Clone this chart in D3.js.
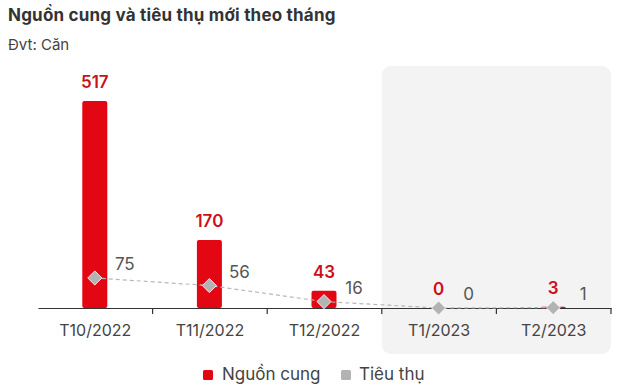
<!DOCTYPE html>
<html><head><meta charset="utf-8">
<script src="https://cdn.jsdelivr.net/npm/d3@7"></script>
<style>body{margin:0;background:#fff;font-family:Inter,"Open Sans",sans-serif;}</style>
</head><body><svg id="c" width="632" height="392"></svg>
<script>
const categories = ["T10/2022","T11/2022","T12/2022","T1/2023","T2/2023"];
const supply = [517,170,43,0,3];
const consumption = [75,56,16,0,1];
const highlighted = ["T1/2023","T2/2023"];
const title = "Nguồn cung và tiêu thụ mới theo tháng";
const unit = "Đvt: Căn";
const seriesNames = ["Nguồn cung","Tiêu thụ"];

const svg = d3.select("#c");
const left = 38, right = 611, base = 308;
const x = d3.scaleBand().domain(categories).range([left,right]);
const y = d3.scaleLinear().domain([0,517]).range([base,101]);
const red = "#e30613", gray = "#b3b3b3";

// highlight panel
const hx0 = x(highlighted[0]), hx1 = x(highlighted[highlighted.length-1]) + x.bandwidth();
svg.append("rect").attr("x",hx0).attr("y",66).attr("width",hx1-hx0).attr("height",288)
  .attr("rx",9).attr("fill","#f3f3f3");

svg.append("text").attr("x",8).attr("y",21).text(title)
  .attr("font-size",17).attr("font-weight",700).attr("fill","#333").attr("letter-spacing",0.2);
svg.append("text").attr("x",8).attr("y",50).text(unit)
  .attr("font-size",15).attr("fill","#444");

// bars
const bw = 25;
svg.selectAll(".bar").data(categories).enter().append("rect")
  .attr("x",d=>x(d)+x.bandwidth()/2-bw/2 - 0.5)
  .attr("y",(d,i)=>y(supply[i]))
  .attr("width",bw).attr("height",(d,i)=>base-y(supply[i]))
  .attr("rx",2).attr("fill",red);

// axis
const axis = d3.axisBottom(x).tickSize(0).tickPadding(17);
const g = svg.append("g").attr("transform",`translate(0,${base})`).call(axis);
g.select(".domain").attr("stroke","#333").attr("stroke-width",1.2);
g.selectAll("text").attr("font-size",16).attr("fill","#444").attr("font-family","Inter,'Open Sans',sans-serif");
const bounds = categories.map(c=>x(c)).concat([right]);
svg.selectAll(".tk").data(bounds.slice(1)).enter().append("line")
  .attr("x1",d=>d).attr("x2",d=>d).attr("y1",base).attr("y2",base+6)
  .attr("stroke","#333").attr("stroke-width",1.2);

// line
const cx = d=>x(d)+x.bandwidth()/2 - 0.5;
const line = d3.line().x((d,i)=>cx(categories[i])).y(d=>y(d));
svg.append("path").datum(consumption).attr("d",line).attr("fill","none")
  .attr("stroke","#b8b8b8").attr("stroke-width",1.2).attr("stroke-dasharray","4,3");
svg.selectAll(".pt").data(consumption).enter().append("rect")
  .attr("x",-5).attr("y",-5).attr("width",10).attr("height",10)
  .attr("transform",(d,i)=>`translate(${cx(categories[i])},${y(d)}) rotate(45)`)
  .attr("fill",gray).attr("stroke","#fff").attr("stroke-width",0.8);

// labels
svg.selectAll(".sl").data(supply).enter().append("text")
  .attr("x",(d,i)=>cx(categories[i])).attr("y",d=>y(d)-13)
  .attr("text-anchor","middle").text(d=>d)
  .attr("font-size",17).attr("font-weight",600).attr("fill","#cc1018");
svg.selectAll(".cl").data(consumption).enter().append("text")
  .attr("x",(d,i)=>cx(categories[i])+30).attr("y",d=>y(d)-8)
  .attr("text-anchor","middle").text(d=>d)
  .attr("font-size",17).attr("fill","#555");

// legend
const lg = svg.append("g");
lg.append("rect").attr("x",203).attr("y",370).attr("width",10).attr("height",10).attr("rx",1.5).attr("fill",red);
lg.append("text").attr("x",222).attr("y",380).text(seriesNames[0]).attr("font-size",17).attr("fill","#444");
lg.append("rect").attr("x",341).attr("y",370).attr("width",10).attr("height",10).attr("rx",1.5).attr("fill",gray);
lg.append("text").attr("x",359).attr("y",380).text(seriesNames[1]).attr("font-size",17).attr("fill","#444");
</script></body></html>
